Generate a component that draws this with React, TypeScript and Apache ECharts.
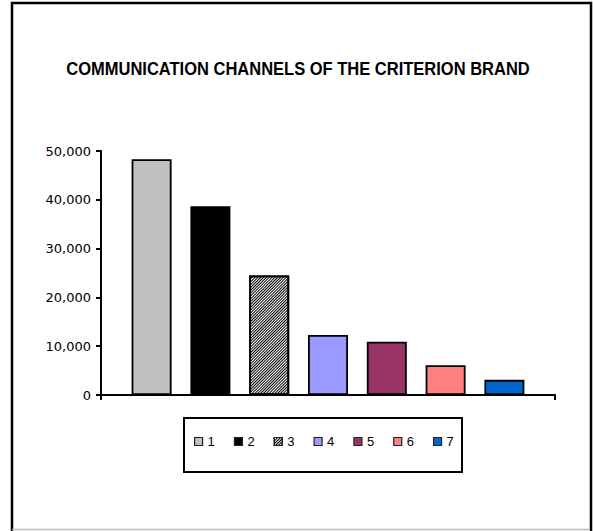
import React, { useEffect, useRef } from "react";
import * as echarts from "echarts";

const titleText = "COMMUNICATION CHANNELS OF THE CRITERION BRAND";
const seriesNames = ["1", "2", "3", "4", "5", "6", "7"];
const seriesValues = [48300, 38700, 24500, 12300, 10900, 6100, 3100];
const seriesColors = ["#C0C0C0", "#000000", "#FFFFFF", "#9999FF", "#993366", "#FF8080", "#0066CC"];
const yTicks = { min: 0, max: 50000, interval: 10000 };

export default function App() {
  const ref = useRef<HTMLDivElement>(null);
  useEffect(() => {
    if (!ref.current) return;
    const chart = echarts.init(ref.current, null, { renderer: "svg" });
    const series = seriesNames.map((name, i) => ({
      name,
      type: "bar",
      data: [seriesValues[i]],
      barWidth: 40,
      barGap: "47%",
      itemStyle: {
        color: seriesColors[i],
        borderColor: "#000",
        borderWidth: 1.8,
        ...(i === 2
          ? {
              decal: {
                symbol: "rect",
                symbolSize: 1,
                dashArrayX: [1, 0],
                dashArrayY: [0.6, 0.7],
                rotation: -Math.PI / 4,
                color: "#000",
                backgroundColor: "#fff",
              },
            }
          : {}),
      },
    }));
    chart.setOption({
      animation: false,
      backgroundColor: "#fff",
      grid: { left: 101, right: 38, top: 151, bottom: 136, containLabel: false },
      xAxis: {
        type: "category",
        data: [""],
        boundaryGap: true,
        axisLine: { lineStyle: { color: "#000", width: 2 } },
        axisTick: { show: true, length: 5, lineStyle: { color: "#000", width: 2 } },
        axisLabel: { show: false },
      },
      yAxis: {
        type: "value",
        min: yTicks.min,
        max: yTicks.max,
        interval: yTicks.interval,
        axisLine: { show: true, lineStyle: { color: "#000", width: 2 } },
        axisTick: { show: true, length: 5, lineStyle: { color: "#000", width: 2 } },
        splitLine: { show: false },
        axisLabel: {
          color: "#000",
          fontFamily: "DejaVu Sans",
          fontSize: 13,
          margin: 10,
          formatter: (v: number) => v.toLocaleString("en-US"),
        },
      },
      legend: {
        data: seriesNames,
        left: 194,
        top: 435,
        padding: 0,
        itemWidth: 8,
        itemHeight: 8,
        itemGap: 19,
        icon: "rect",
        itemStyle: { borderColor: "#222", borderWidth: 1.2 },
        textStyle: { color: "#000", fontFamily: "Liberation Sans", fontSize: 13, lineHeight: 13 },
        selectedMode: false,
      },
      graphic: [
        {
          type: "rect",
          shape: { x: 12, y: 3, width: 579, height: 540 },
          style: { fill: "none", stroke: "#000", lineWidth: 2.5 },
          silent: true,
          z: 100,
        },
        {
          type: "line",
          shape: { x1: 12, y1: 529.5, x2: 590, y2: 529.5 },
          style: { stroke: "#bbb", lineWidth: 1.5 },
          silent: true,
          z: 100,
        },
        {
          type: "rect",
          shape: { x: 184, y: 418, width: 278, height: 54 },
          style: { fill: "none", stroke: "#000", lineWidth: 2 },
          silent: true,
          z: 100,
        },
        {
          type: "text",
          x: 298,
          y: 69,
          scaleX: 0.86,
          style: {
            text: titleText,
            fill: "#000",
            font: "bold 19.2px 'Liberation Sans', sans-serif",
            textAlign: "center",
            textVerticalAlign: "middle",
          },
          silent: true,
        },
      ],
      series,
    });
    return () => chart.dispose();
  }, []);
  return (
    <div
      ref={ref}
      style={{ position: "fixed", left: 0, top: 0, width: 593, height: 531 }}
    />
  );
}
